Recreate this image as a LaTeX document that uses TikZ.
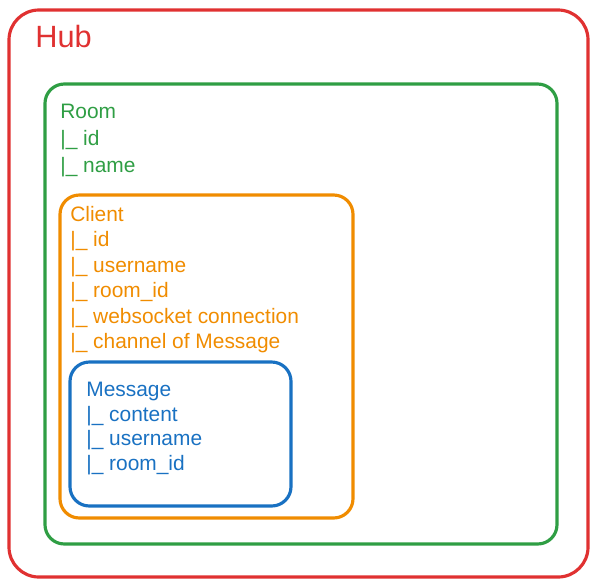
\documentclass[tikz,border=0pt]{standalone}
\usepackage{fontspec}
\setmainfont{Liberation Sans}
\usepackage{tikz}

\definecolor{hubred}{HTML}{E03131}
\definecolor{roomgreen}{HTML}{2F9E44}
\definecolor{clientorange}{HTML}{F08C00}
\definecolor{msgblue}{HTML}{1971C2}

\begin{document}
\begin{tikzpicture}[x=0.02cm, y=-0.02cm,
    box/.style={line width=1.8pt, rounded corners=11pt},
    label/.style={anchor=north west, inner sep=0pt, align=left,
        font=\fontsize{11.9}{14.5}\selectfont}]
    \useasboundingbox (0,0) rectangle (597,585);
    \draw[box, hubred, rounded corners=17pt] (9,10) rectangle (588,577);
    \draw[box, roomgreen] (45,84) rectangle (557,544);
    \draw[box, clientorange] (60,195) rectangle (353,518);
    \draw[box, msgblue] (70,362) rectangle (291,506);
    \node[label, hubred, font=\fontsize{17.5}{20}\selectfont] (hub) at (35,25) {Hub};
    \node[label, roomgreen, font=\fontsize{11.9}{15.3}\selectfont] (room) at (60,104) {Room\\|\_ id\\|\_ name};
    \node[label, clientorange] (client) at (70,206) {Client\\|\_ id\\|\_ username\\|\_ room\_id\\|\_ websocket connection\\|\_ channel of Message};
    \node[label, msgblue, font=\fontsize{11.9}{14}\selectfont] (message) at (86,382) {Message\\|\_ content\\|\_ username\\|\_ room\_id};
\end{tikzpicture}
\end{document}
